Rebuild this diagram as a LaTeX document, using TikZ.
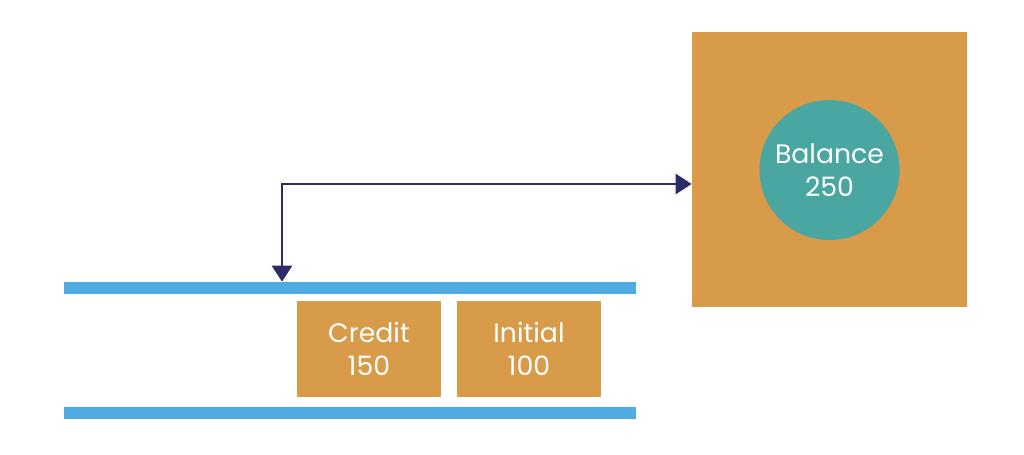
\documentclass[tikz,border=0pt]{standalone}
\usepackage{fontspec}
\setmainfont{Poppins}
\usepackage{tikz}
\usetikzlibrary{arrows.meta}

\definecolor{boxorange}{HTML}{D79B4A}
\definecolor{ballteal}{HTML}{4AA6A0}
\definecolor{railblue}{HTML}{4FABE0}
\definecolor{linknavy}{HTML}{2D2A6C}

\tikzset{
  rail/.style={fill=railblue, inner sep=0pt, minimum width=14.3cm, minimum height=0.3cm},
  frame/.style={fill=boxorange, inner sep=0pt, minimum width=3.6cm, minimum height=2.375cm,
    text=white, align=center, font=\fontsize{19}{23}\selectfont},
  link/.style={draw=linknavy, line width=1.8pt, {Triangle[length=0.4cm, width=0.5cm]}-{Triangle[length=0.4cm, width=0.5cm]}}
}

\begin{document}
\begin{tikzpicture}[x=0.025cm, y=0.025cm]
				\useasboundingbox (0,0) rectangle (1024,454);
				
				% 通道
				\node[rail] (toprail) at (350,166) {};
				\node[rail] (botrail) at (350,41) {};
				\node[frame] (credit) at (369,105) {Credit\\150};
				\node[frame] (initial) at (529,105) {Initial\\100};
				
				% 存储
				\node[fill=boxorange, inner sep=0pt, minimum size=6.875cm] (store) at (829.5,284.5) {};
				\node[circle, fill=ballteal, inner sep=0pt, minimum size=3.5cm, text=white, align=center,
				  font=\fontsize{19}{23}\selectfont] (balance) at (829.5,284) {Balance\\250};
				
				% 连接
				\coordinate (bend) at (282,270);
				\draw[link] (toprail.north -| bend) -- (bend) -- (store.west |- bend);
			\end{tikzpicture}
\end{document}
